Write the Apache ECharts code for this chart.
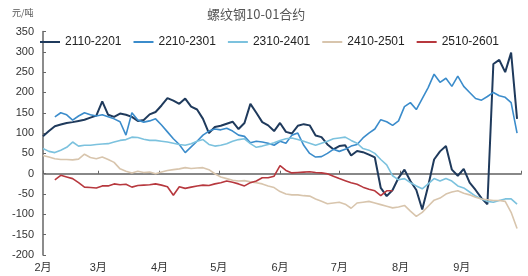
<!DOCTYPE html>
<html><head><meta charset="utf-8">
<script src="https://cdn.jsdelivr.net/npm/echarts@6/dist/echarts.min.js"></script>
<style>html,body{margin:0;padding:0;background:#fff}#c{width:528px;height:276px}</style>
</head><body><div id="c"></div>
<script>
const dates = [
 '2025-02-01','2025-02-04','2025-02-07','2025-02-10','2025-02-13','2025-02-16','2025-02-19','2025-02-22','2025-02-25','2025-02-28',
 '2025-03-03','2025-03-06','2025-03-09','2025-03-12','2025-03-15','2025-03-18','2025-03-21','2025-03-24','2025-03-27','2025-03-30',
 '2025-04-02','2025-04-05','2025-04-08','2025-04-11','2025-04-14','2025-04-17','2025-04-20','2025-04-23','2025-04-26','2025-04-29',
 '2025-05-02','2025-05-05','2025-05-08','2025-05-11','2025-05-14','2025-05-17','2025-05-20','2025-05-23','2025-05-26','2025-05-29',
 '2025-06-01','2025-06-04','2025-06-07','2025-06-10','2025-06-13','2025-06-16','2025-06-19','2025-06-22','2025-06-25','2025-06-28',
 '2025-07-01','2025-07-04','2025-07-07','2025-07-10','2025-07-13','2025-07-16','2025-07-19','2025-07-22','2025-07-25','2025-07-28','2025-07-31',
 '2025-08-03','2025-08-06','2025-08-09','2025-08-12','2025-08-15','2025-08-18','2025-08-21','2025-08-24','2025-08-27','2025-08-30',
 '2025-09-02','2025-09-05','2025-09-08','2025-09-11','2025-09-14','2025-09-17','2025-09-20','2025-09-23','2025-09-26','2025-09-29'
];
const seriesNames = ['2110-2201','2210-2301','2310-2401','2410-2501','2510-2601'];
const s2110 = [
 92,105,117,121,125,127,130,133,138,143,
 178,145,140,148,145,140,130,132,146,152,
 168,186,180,172,185,165,158,135,100,115,
 118,123,128,110,125,172,150,127,119,105,
 125,103,99,118,122,119,94,90,72,60,
 68,70,45,56,53,47,40,-35,-55,-40,
 -10,10,-18,-40,-88,-30,35,55,68,10,
 -5,12,-22,-40,-60,-75,270,280,250,298,135
];
const s2210 = [
 null,null,140,150,145,132,142,150,145,142,
 145,140,135,128,95,150,132,127,130,135,
 120,103,86,72,52,66,80,95,105,110,
 108,112,105,95,92,76,80,78,75,70,
 80,75,95,100,70,50,41,42,50,60,
 55,60,68,72,88,100,110,133,128,119,
 130,165,175,158,185,212,245,225,235,215,
 240,215,200,185,181,190,200,192,188,175,100
];
const s2310 = [
 62,55,52,58,65,78,68,70,70,72,
 73,74,78,82,84,90,89,85,82,82,
 80,78,75,72,70,74,80,84,72,68,
 70,74,80,84,86,74,65,68,72,76,
 82,86,88,84,80,75,70,75,80,86,
 88,90,82,75,62,58,50,35,22,-5,
 -15,-12,-22,-30,-37,-25,-12,-18,-12,-18,
 -30,-35,-45,-55,-62,-68,-70,-66,-62,-62,-75
];
const s2410 = [
 45,41,37,35,35,34,36,48,40,37,
 41,35,28,12,6,2,6,3,4,0,
 4,8,10,12,15,13,14,15,10,0,
 -8,-12,-16,-18,-17,-20,-22,-25,-30,-34,
 -44,-50,-52,-52,-54,-55,-62,-68,-74,-72,
 -70,-75,-85,-72,-70,-68,-72,-76,-80,-84,
 -82,-78,-92,-105,-95,-80,-65,-60,-50,-45,
 -42,-48,-52,-58,-62,-64,-66,-66,-68,-95,-135
];
const s2510 = [
 null,null,-15,-4,-8,-12,-22,-33,-34,-35,
 -30,-30,-25,-27,-26,-33,-29,-28,-27,-25,
 -28,-32,-53,-32,-36,-33,-30,-28,-29,-25,
 -22,-18,-21,-25,-30,-22,-18,-10,-10,-6,
 20,8,2,3,4,5,3,2,0,-6,
 -12,-17,-22,-26,-33,-38,-42,-54,-42,-42,
 null,null,null,null,null,null,null,null,null,null,
 null,null,null,null,null,null,null,null,null,null,null
];
const yTicks = [-200,-150,-100,-50,0,50,100,150,200,250,300,350];
const colors = ['#1f3a5c','#3b8ccb','#7cc2de','#d8c5ad','#b7383e'];
const widths = [2,1.6,1.6,1.6,1.6];
const allValues = [s2110,s2210,s2310,s2410,s2510];

const font = 'Liberation Sans, Arial, Noto Sans CJK SC, sans-serif';
const chart = echarts.init(document.getElementById('c'), null, {renderer:'canvas'});
const monthFmt = v => (new Date(v).getMonth() + 1) + '月';
chart.setOption({
  animation: false,
  backgroundColor: '#fff',
  title: [
    {text: '螺纹钢10-01合约', left: 207, top: 8, padding: 0,
     textStyle: {fontSize: 13, fontWeight: 'normal', color: '#555', fontFamily: 'Noto Sans CJK SC, sans-serif'}},
    {text: '元/吨', left: 12, top: 8, padding: 0,
     textStyle: {fontSize: 9, fontWeight: 'normal', color: '#555', fontFamily: 'Noto Sans CJK SC, sans-serif'}}
  ],
  legend: {
    data: seriesNames, left: 40, top: 36, padding: 0, itemGap: 12,
    itemWidth: 20, itemHeight: 2, icon: 'rect',
    textStyle: {fontSize: 12, color: '#222', fontFamily: font}
  },
  grid: {left: 43, right: 7, top: 31.5, bottom: 21},
  xAxis: [
    {type: 'time', min: '2025-02-01', max: '2025-10-01',
     minInterval: 28*86400000, maxInterval: 31*86400000,
     axisLine: {show: true, onZero: true, lineStyle: {color: '#888', width: 2}},
     axisTick: {show: true, inside: true, length: 3, lineStyle: {color: '#666'}},
     axisLabel: {show: false}, splitLine: {show: false}},
    {type: 'time', position: 'bottom', min: '2025-02-01', max: '2025-10-01',
     minInterval: 28*86400000, maxInterval: 31*86400000,
     axisLine: {show: false, onZero: false}, axisTick: {show: false},
     axisLabel: {show: true, formatter: monthFmt, margin: 7, showMaxLabel: false, showMinLabel: true,
                 fontSize: 11, color: '#333', fontFamily: font},
     splitLine: {show: false}}
  ],
  yAxis: {
    type: 'value', min: yTicks[0], max: yTicks[yTicks.length-1], interval: 50,
    axisLine: {show: true, lineStyle: {color: '#666', width: 1.5}},
    axisTick: {show: true, inside: true, length: 3, lineStyle: {color: '#666'}},
    axisLabel: {fontSize: 11, color: '#333', margin: 9, fontFamily: font},
    splitLine: {show: false}
  },
  series: seriesNames.map((n, k) => ({
    name: n, type: 'line', xAxisIndex: 0, showSymbol: false, symbol: 'none',
    connectNulls: false,
    color: colors[k],
    lineStyle: {color: colors[k], width: widths[k]},
    data: dates.map((d, i) => [d, allValues[k][i]])
  }))
});
</script></body></html>
